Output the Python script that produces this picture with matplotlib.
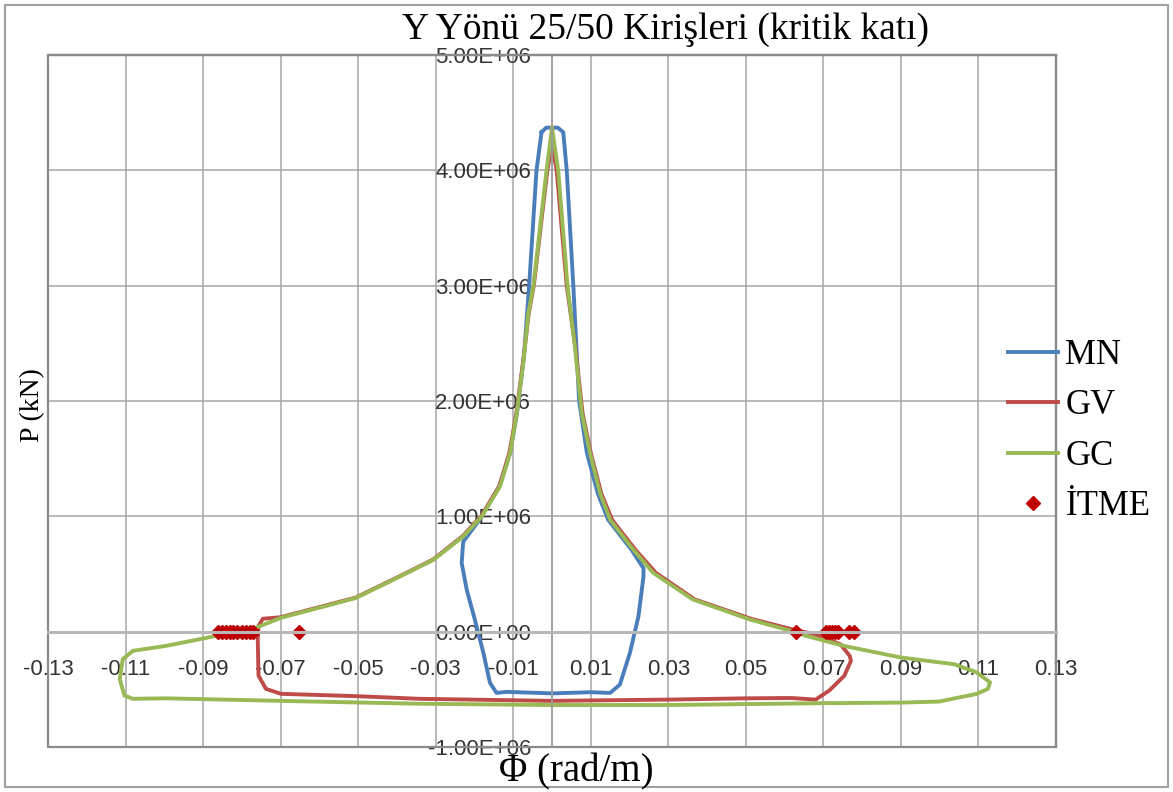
import matplotlib
matplotlib.use("Agg")
import matplotlib.pyplot as plt
from matplotlib.patches import Rectangle

# --- data (curvature in rad/m, axial load in kN) ---
mn_x = [-0.0027, -0.0015, 0.0015, 0.0029, 0.0038, 0.0055, 0.0070, 0.0090, 0.0118,
        0.0145, 0.0205, 0.0236, 0.0236, 0.0223, 0.0201, 0.0175, 0.0150, 0.0100,
        0.0000, -0.0117, -0.0143, -0.0160, -0.0177, -0.0199, -0.0220, -0.0233,
        -0.0229, -0.0185, -0.0136, -0.0108, -0.0090, -0.0072, -0.0059, -0.0040, -0.0027]
mn_y = [4.33e6, 4.37e6, 4.37e6, 4.33e6, 4.00e6, 3.00e6, 2.00e6, 1.55e6, 1.20e6,
        0.97e6, 0.71e6, 0.55e6, 0.479e6, 0.133e6, -0.184e6, -0.459e6, -0.531e6, -0.525e6,
        -0.535e6, -0.522e6, -0.531e6, -0.444e6, -0.184e6, 0.104e6, 0.364e6, 0.595e6,
        0.78e6, 0.98e6, 1.26e6, 1.55e6, 1.90e6, 2.40e6, 3.00e6, 4.00e6, 4.33e6]

gv_x = [0.0, 0.0012, 0.0038, 0.0060, 0.0079, 0.0100, 0.0127, 0.0155, 0.0215, 0.0268,
        0.0368, 0.0515, 0.0620, 0.0676, 0.0744, 0.0768, 0.0771, 0.0754, 0.0715, 0.0680,
        0.0617, 0.0500, 0.0302, 0.0000, -0.0343, -0.0506, -0.0699, -0.0738, -0.0757,
        -0.0759, -0.0757, -0.0746, -0.0700, -0.0506, -0.0392, -0.0306, -0.0230, -0.0183,
        -0.0136, -0.0110, -0.0092, -0.0075, -0.0060, -0.0047, -0.0012, 0.0]
gv_y = [4.22e6, 4.00e6, 3.00e6, 2.47e6, 1.89e6, 1.55e6, 1.20e6, 0.97e6, 0.71e6, 0.51e6,
        0.28e6, 0.11e6, 0.02e6, -0.02e6, -0.109e6, -0.21e6, -0.253e6, -0.382e6, -0.511e6, -0.589e6,
        -0.575e6, -0.578e6, -0.589e6, -0.600e6, -0.582e6, -0.559e6, -0.539e6, -0.496e6, -0.381e6,
        -0.066e6, 0.049e6, 0.112e6, 0.125e6, 0.296e6, 0.482e6, 0.627e6, 0.83e6, 1.00e6,
        1.26e6, 1.55e6, 1.89e6, 2.33e6, 2.76e6, 3.00e6, 4.00e6, 4.22e6]

gc_x = [0.0, 0.0016, 0.0040, 0.0059, 0.0077, 0.0098, 0.0124, 0.0150, 0.0210, 0.0261,
        0.0363, 0.0510, 0.0617, 0.0656, 0.0754, 0.0900, 0.1037, 0.1095, 0.1130, 0.1124,
        0.1095, 0.0998, 0.0900, 0.0700, 0.0300, 0.0000, -0.0343, -0.0699, -0.0995, -0.1081,
        -0.1103, -0.1115, -0.1107, -0.1081, -0.0995, -0.0867, -0.0824, -0.0764, -0.0699,
        -0.0506, -0.0392, -0.0306, -0.0229, -0.0181, -0.0134, -0.0108, -0.0091, -0.0074,
        -0.0061, -0.0048, -0.0014, 0.0]
gc_y = [4.37e6, 4.00e6, 3.00e6, 2.47e6, 1.89e6, 1.55e6, 1.20e6, 0.97e6, 0.71e6, 0.51e6,
        0.28e6, 0.106e6, 0.006e6, -0.037e6, -0.124e6, -0.224e6, -0.282e6, -0.353e6, -0.440e6, -0.497e6,
        -0.540e6, -0.606e6, -0.615e6, -0.620e6, -0.636e6, -0.636e6, -0.625e6, -0.600e6, -0.578e6, -0.582e6,
        -0.553e6, -0.410e6, -0.238e6, -0.166e6, -0.123e6, -0.037e6, -0.009e6, 0.034e6, 0.120e6,
        0.292e6, 0.479e6, 0.623e6, 0.825e6, 1.00e6, 1.26e6, 1.55e6, 1.89e6, 2.33e6,
        2.76e6, 3.00e6, 4.00e6, 4.37e6]

itme_x = [-0.0861, -0.0850, -0.0840, -0.0831, -0.0822, -0.0812, -0.0800, -0.0790,
          -0.0779, -0.0770, -0.0653, 0.0629, 0.0707, 0.0715, 0.0722, 0.0730, 0.0738,
          0.0766, 0.0779]
itme_y = [0.0] * len(itme_x)

x_ticks = [-0.13, -0.11, -0.09, -0.07, -0.05, -0.03, -0.01, 0.01, 0.03, 0.05, 0.07, 0.09, 0.11, 0.13]
x_labels = ["-0.13", "-0.11", "-0.09", "-0.07", "-0.05", "-0.03", "-0.01",
            "0.01", "0.03", "0.05", "0.07", "0.09", "0.11", "0.13"]
y_ticks = [-1e6, 0, 1e6, 2e6, 3e6, 4e6, 5e6]
y_labels = ["-1.00E+06", "0.00E+00", "1.00E+06", "2.00E+06", "3.00E+06", "4.00E+06", "5.00E+06"]

W, H = 1173, 792
serif = ["Liberation Serif", "DejaVu Serif"]
sans = ["Liberation Sans", "DejaVu Sans"]

fig = plt.figure(figsize=(W / 100, H / 100), dpi=100)
ax = fig.add_axes([48 / W, (H - 747) / H, 1008 / W, 692 / H])

ax.plot(mn_x, mn_y, color="#4A7EBB", lw=2.8, label="MN", solid_joinstyle="round")
ax.plot(gv_x, gv_y, color="#BE4B48", lw=2.8, label="GV", solid_joinstyle="round")
ax.plot(gc_x, gc_y, color="#98B954", lw=2.8, label="GC", solid_joinstyle="round")
ax.plot(itme_x, itme_y, linestyle="none", marker="D", markersize=7,
        color="#C00000", label="İTME")

ax.set_xlim(-0.13, 0.13)
ax.set_ylim(-1e6, 5e6)
ax.set_xticks(x_ticks)
ax.set_xticklabels(x_labels)
ax.set_yticks(y_ticks)
ax.set_yticklabels(y_labels)
ax.grid(True, color="#a6a6a6", lw=1.1)
ax.set_axisbelow(True)

ax.spines["left"].set_position(("data", 0))
ax.spines["bottom"].set_position(("data", 0))
ax.spines["left"].set_color("#9a9a9a")
ax.spines["left"].set_linewidth(1.3)
ax.spines["bottom"].set_color("#b8b8b8")
ax.spines["bottom"].set_linewidth(2.2)
for s in ["top", "right"]:
    ax.spines[s].set_color("#8a8a8a")
    ax.spines[s].set_linewidth(1.6)
ax.add_patch(Rectangle((0, 0), 1, 1, transform=ax.transAxes, fill=False,
                       edgecolor="#8a8a8a", lw=1.6, clip_on=False))

ax.tick_params(axis="both", length=0, labelsize=16, labelcolor="#333333")
ax.tick_params(axis="x", pad=20)
ax.tick_params(axis="y", pad=15)
for t in ax.get_xticklabels() + ax.get_yticklabels():
    t.set_fontfamily(sans)

leg = ax.legend(loc="center left", bbox_to_anchor=(1008 / W, 1 - 431 / H),
                bbox_transform=fig.transFigure, frameon=False, borderpad=0,
                borderaxespad=0, handlelength=1.45, handletextpad=0.2,
                labelspacing=0.5, numpoints=1, prop={"family": serif, "size": 25})

fig.text(665 / W, 1 - 30 / H, "Y Yönü 25/50 Kirişleri (kritik katı)",
         ha="center", va="center", fontsize=27, family=serif)
fig.text(576 / W, 1 - 772 / H, "Φ (rad/m)", ha="center", va="center",
         fontsize=28, family=serif)
fig.text(33 / W, 1 - 405 / H, "P (kN)", ha="center", va="center",
         rotation=90, fontsize=20, family=serif)

fig.patches.append(Rectangle((5 / W, 5 / H), 1 - 10 / W, 1 - 10 / H,
                             transform=fig.transFigure, fill=False,
                             edgecolor="#a0a0a0", lw=1.5))

fig.savefig("out.png", dpi=100)
